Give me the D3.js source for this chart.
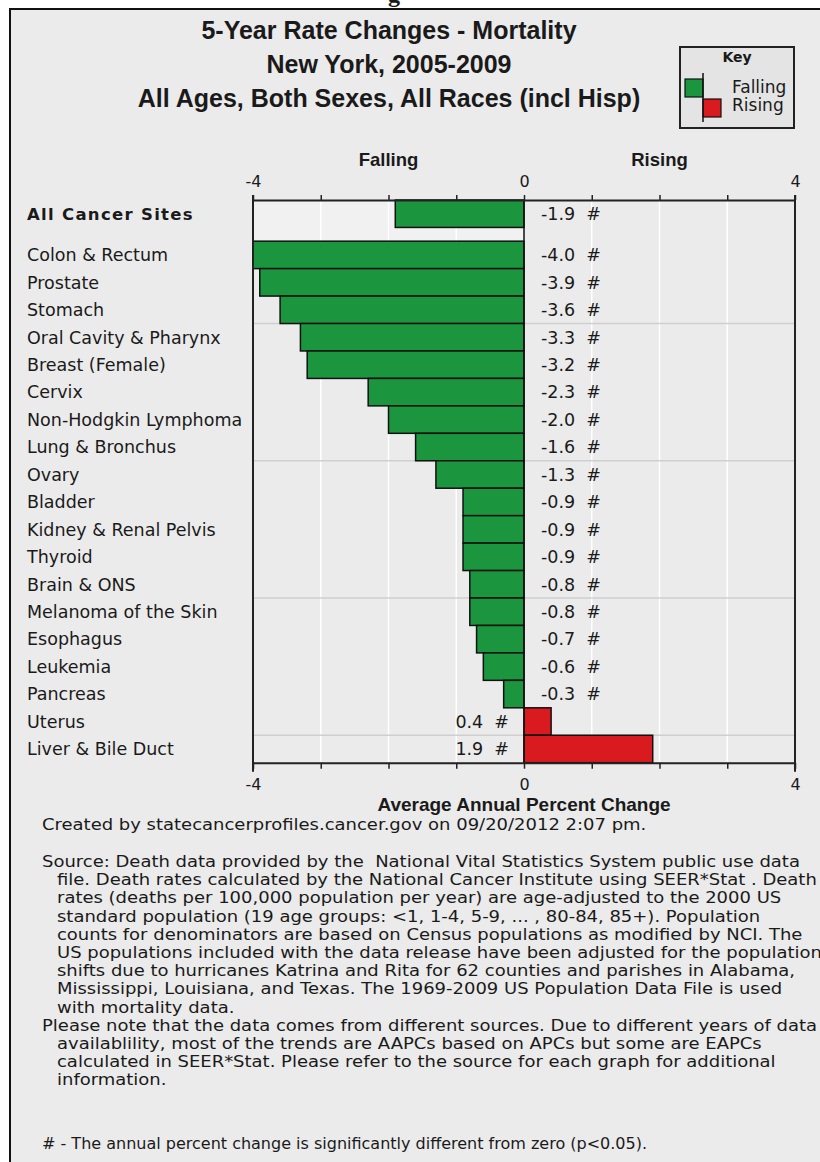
<!DOCTYPE html>
<html>
<head>
<meta charset="utf-8">
<script src="https://cdn.jsdelivr.net/npm/d3@7"></script>
<style>
  body { margin: 0; background: #fff; }
  svg { display: block; }
  text { fill: #1a1a1a; }
</style>
</head>
<body>
<svg id="chart" width="820" height="1162"></svg>
<script>
// data
var sites = ['All Cancer Sites', 'Colon & Rectum', 'Prostate', 'Stomach', 'Oral Cavity & Pharynx',
  'Breast (Female)', 'Cervix', 'Non-Hodgkin Lymphoma', 'Lung & Bronchus', 'Ovary', 'Bladder',
  'Kidney & Renal Pelvis', 'Thyroid', 'Brain & ONS', 'Melanoma of the Skin', 'Esophagus',
  'Leukemia', 'Pancreas', 'Uterus', 'Liver & Bile Duct'];
var aapc = [-1.9, -4.0, -3.9, -3.6, -3.3, -3.2, -2.3, -2.0, -1.6, -1.3, -0.9, -0.9, -0.9, -0.8, -0.8, -0.7, -0.6, -0.3, 0.4, 1.9];
var xTicks = [-4, -3, -2, -1, 0, 1, 2, 3, 4];
var xLabels = [-4, 0, 4];
var titleLines = ['5-Year Rate Changes - Mortality', 'New York, 2005-2009', 'All Ages, Both Sexes, All Races (incl Hisp)'];
var keyItems = ['Falling', 'Rising'];
var created = 'Created by statecancerprofiles.cancer.gov on 09/20/2012 2:07 pm.';
var sourceNote = [
  ['Source: Death data provided by the  National Vital Statistics System public use data', 0],
  ['file. Death rates calculated by the National Cancer Institute using SEER*Stat . Death', 1],
  ['rates (deaths per 100,000 population per year) are age-adjusted to the 2000 US', 1],
  ['standard population (19 age groups: <1, 1-4, 5-9, ... , 80-84, 85+). Population', 1],
  ['counts for denominators are based on Census populations as modified by NCI. The', 1],
  ['US populations included with the data release have been adjusted for the population', 1],
  ['shifts due to hurricanes Katrina and Rita for 62 counties and parishes in Alabama,', 1],
  ['Mississippi, Louisiana, and Texas. The 1969-2009 US Population Data File is used', 1],
  ['with mortality data.', 1],
  ['Please note that the data comes from different sources. Due to different years of data', 0],
  ['availablility, most of the trends are AAPCs based on APCs but some are EAPCs', 1],
  ['calculated in SEER*Stat. Please refer to the source for each graph for additional', 1],
  ['information.', 1]
];
var footnote = '# - The annual percent change is significantly different from zero (p<0.05).';

var green = '#1b963f', red = '#d91a1e';
var sans = 'DejaVu Sans, Verdana, sans-serif';
var arial = 'Liberation Sans, Arial, sans-serif';

var svg = d3.select('#chart');

// page bits: cut-off heading above the frame, then the frame
svg.append('text').attr('x', 394).attr('y', 2).attr('text-anchor', 'middle')
  .style('font', 'bold 24px Liberation Serif, serif').text('g');
svg.append('rect').attr('x', 10).attr('y', 9).attr('width', 830).attr('height', 1180)
  .attr('fill', '#ebebeb').attr('stroke', '#111').attr('stroke-width', 2);

// title
svg.selectAll('.title').data(titleLines).enter().append('text')
  .attr('class', 'title')
  .attr('x', 389).attr('y', function (d, i) { return 39 + i * 34; })
  .attr('text-anchor', 'middle')
  .style('font', 'bold 25px ' + arial)
  .text(function (d) { return d; });

// key
var key = svg.append('g');
key.append('rect').attr('x', 680).attr('y', 47).attr('width', 114).attr('height', 81)
  .attr('fill', '#e4e4e4').attr('stroke', '#222').attr('stroke-width', 2);
key.append('text').attr('x', 737).attr('y', 62).attr('text-anchor', 'middle')
  .style('font', 'bold 14px ' + sans).text('Key');
key.append('rect').attr('x', 685).attr('y', 79).attr('width', 18).attr('height', 18)
  .attr('fill', green).attr('stroke', '#111').attr('stroke-width', 1.2);
key.append('rect').attr('x', 703).attr('y', 99).attr('width', 18).attr('height', 18)
  .attr('fill', red).attr('stroke', '#111').attr('stroke-width', 1.2);
key.append('line').attr('x1', 703).attr('x2', 703).attr('y1', 73).attr('y2', 122)
  .attr('stroke', '#111').attr('stroke-width', 1.5);
key.selectAll('.ktxt').data(keyItems).enter().append('text')
  .attr('x', 732).attr('y', function (d, i) { return 93 + i * 18; })
  .style('font', '17px ' + sans).text(function (d) { return d; });

// scales
var x = d3.scaleLinear().domain([-4, 4]).range([253, 795]);
var y = d3.scaleLinear().domain([0, 20.5]).range([200, 762.7]);
var rowPos = function (i) { return i === 0 ? 0 : i + 0.5; };
var bandH = y(1) - y(0);
var yTop = y(0), yBot = y(20.5);

var plot = svg.append('g');

// lighter band behind the all-sites row on the falling side
plot.append('rect').attr('x', x(-4)).attr('y', yTop).attr('width', x(0) - x(-4))
  .attr('height', y(1.5) - yTop).attr('fill', '#f1f1f1');

// gridlines
plot.selectAll('.vg').data(xTicks.filter(function (d) { return d !== 0 && Math.abs(d) !== 4; }))
  .enter().append('line')
  .attr('x1', x).attr('x2', x).attr('y1', yTop).attr('y2', yBot)
  .attr('stroke', '#fff').attr('stroke-width', 1.5);
plot.selectAll('.hg').data([4.5, 9.5, 14.5, 19.5]).enter().append('line')
  .attr('x1', x(-4)).attr('x2', x(4)).attr('y1', y).attr('y2', y)
  .attr('stroke', '#cfcfcf').attr('stroke-width', 1.5);

// bars
plot.selectAll('.bar').data(aapc).enter().append('rect')
  .attr('x', function (d) { return x(Math.min(0, d)); })
  .attr('y', function (d, i) { return y(rowPos(i)); })
  .attr('width', function (d) { return Math.abs(x(d) - x(0)); })
  .attr('height', bandH)
  .attr('fill', function (d) { return d < 0 ? green : red; })
  .attr('stroke', '#111').attr('stroke-width', 1.5);

// zero line
plot.append('line').attr('x1', x(0)).attr('x2', x(0)).attr('y1', yTop).attr('y2', yBot)
  .attr('stroke', '#111').attr('stroke-width', 1.5);

// value labels
plot.selectAll('.val').data(aapc).enter().append('text')
  .attr('x', function (d) { return d < 0 ? x(0) + 17 : x(0) - 15; })
  .attr('y', function (d, i) { return y(rowPos(i)) + bandH / 2; })
  .attr('dy', '0.36em')
  .attr('text-anchor', function (d) { return d < 0 ? 'start' : 'end'; })
  .style('font', '17.5px ' + sans).style('white-space', 'pre')
  .text(function (d) { return d.toFixed(1) + '  #'; });

// category labels
svg.selectAll('.cat').data(sites).enter().append('text')
  .attr('x', 27)
  .attr('y', function (d, i) { return y(rowPos(i)) + bandH / 2; })
  .attr('dy', '0.36em')
  .style('font', function (d, i) { return (i === 0 ? 'bold 16.5px ' : '17.5px ') + sans; })
  .style('letter-spacing', function (d, i) { return i === 0 ? '1.3px' : null; })
  .text(function (d) { return d; });

// axes
var fmt = function (d) { return xLabels.indexOf(d) >= 0 ? String(d) : ''; };
var axTop = svg.append('g').attr('transform', 'translate(0,' + yTop + ')')
  .call(d3.axisTop(x).tickValues(xTicks).tickFormat(fmt).tickSize(5).tickPadding(8).tickSizeOuter(0));
var axBot = svg.append('g').attr('transform', 'translate(0,' + yBot + ')')
  .call(d3.axisBottom(x).tickValues(xTicks).tickFormat(fmt).tickSize(6).tickPadding(10).tickSizeOuter(0));
[axTop, axBot].forEach(function (a) {
  a.select('.domain').attr('stroke', '#222').attr('stroke-width', 2);
  a.selectAll('.tick line').attr('stroke', '#222').attr('stroke-width', 1.5);
  a.selectAll('.tick text').style('font', '16px ' + sans).attr('fill', '#1a1a1a');
});
// frame sides of the plot
svg.selectAll('.side').data([-4, 4]).enter().append('line')
  .attr('x1', x).attr('x2', x).attr('y1', yTop - 5).attr('y2', yBot + 9)
  .attr('stroke', '#222').attr('stroke-width', 2);

svg.selectAll('.dir').data(['Falling', 'Rising']).enter().append('text')
  .attr('x', function (d, i) { return x(i === 0 ? -2 : 2); })
  .attr('y', 166).attr('text-anchor', 'middle')
  .style('font', 'bold 18.5px ' + arial).text(function (d) { return d; });

svg.append('text').attr('x', x(0)).attr('y', 811).attr('text-anchor', 'middle')
  .style('font', 'bold 19px ' + arial).text('Average Annual Percent Change');

// notes: glyphs are wide in the original, so stretch them horizontally
var notes = svg.append('g').attr('transform', 'translate(42,0) scale(1.2,1)');
notes.append('text').attr('x', 0).attr('y', 830).style('font', '15px ' + sans).text(created);
notes.selectAll('.note').data(sourceNote).enter().append('text')
  .attr('x', function (d) { return d[1] ? 12.5 : 0; })
  .attr('y', function (d, i) { return 867 + i * 18.2; })
  .style('font', '15px ' + sans).style('white-space', 'pre')
  .text(function (d) { return d[0]; });
svg.append('text').attr('x', 42).attr('y', 1149).style('font', '16px ' + sans).text(footnote);
</script>
</body>
</html>
